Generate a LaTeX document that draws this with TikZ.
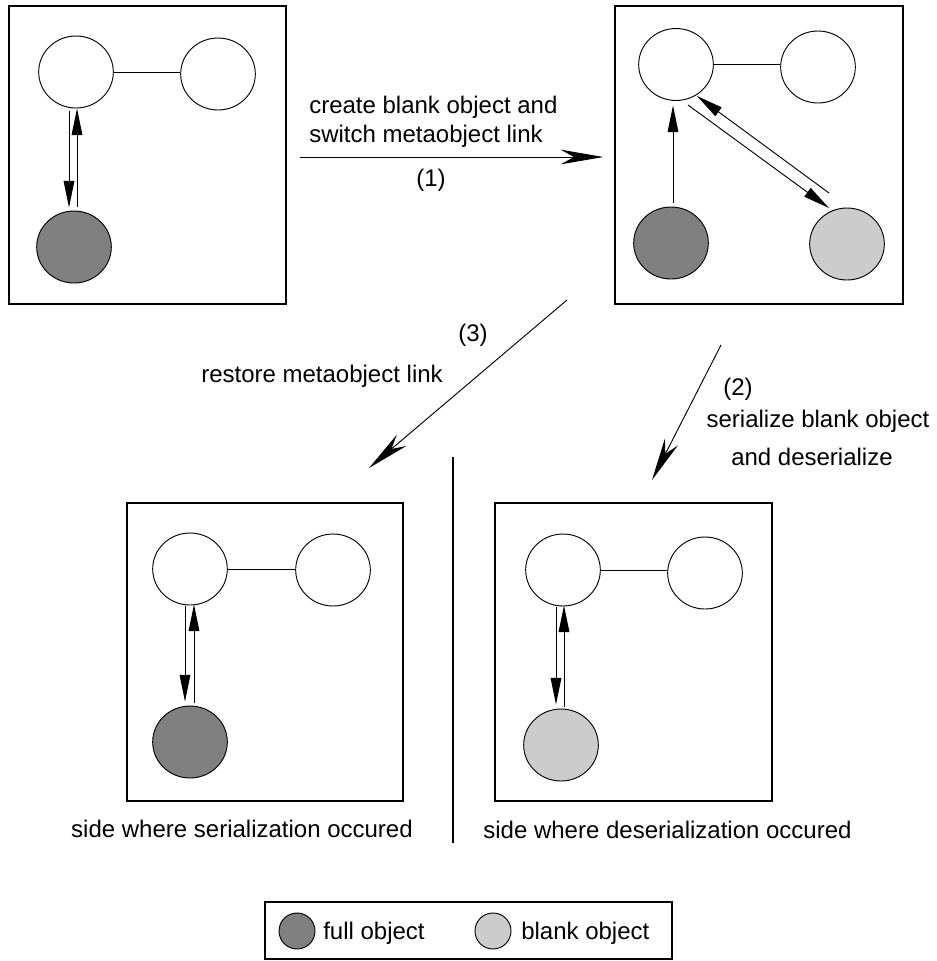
\documentclass[tikz,border=0pt]{standalone}
\usepackage{fontspec}
\setmainfont{Liberation Sans}
\usetikzlibrary{shapes.geometric,arrows.meta,calc}
\definecolor{fullgray}{RGB}{128,128,128}
\definecolor{blankgray}{RGB}{204,204,204}
\begin{document}
\begin{tikzpicture}[x=0.75pt,y=-0.75pt,
  every node/.style={font=\fontsize{18}{22}\selectfont},
  panel/.style={draw,line width=1pt,rectangle,inner sep=0pt},
  obj/.style={draw,ellipse,line width=0.7pt,minimum width=56pt,minimum height=54pt,inner sep=0pt},
  fullobj/.style={obj,fill=fullgray},
  blankobj/.style={obj,fill=blankgray},
  legobj/.style={draw,circle,line width=0.7pt,minimum size=27pt,inner sep=0pt},
  link/.style={line width=0.7pt},
  ptr/.style={line width=0.7pt,-{Triangle[length=20pt,width=8pt]}},
  bigarrow/.style={line width=0.7pt,-{Stealth[length=32pt,width=11pt,inset=10pt]}},
  lbl/.style={anchor=base,inner sep=0pt}]
\useasboundingbox (0,0) rectangle (937,961);
% panels
\node[panel,minimum width=207.75pt,minimum height=223.5pt] (tl) at (147.5,155) {};
\node[panel,minimum width=216pt,minimum height=223.5pt] (tr) at (759,155) {};
\node[panel,minimum width=207pt,minimum height=223.5pt] (bl) at (265,652) {};
\node[panel,minimum width=207.75pt,minimum height=223.5pt] (br) at (633.5,652) {};
\node[panel,minimum width=305.25pt,minimum height=42.75pt] (leg) at (468.5,930.5) {};
% objects
\node[obj] (tlA) at (76,72) {};
\node[obj] (tlB) at (218,74) {};
\node[fullobj] (tlC) at (74,247) {};
\node[obj] (trA) at (676,64.5) {};
\node[obj] (trB) at (818,67) {};
\node[fullobj] (trC) at (671,243) {};
\node[blankobj] (trD) at (847,244) {};
\node[obj] (blA) at (190,569) {};
\node[obj] (blB) at (333,570) {};
\node[fullobj] (blC) at (190,742) {};
\node[obj] (brA) at (563,570) {};
\node[obj] (brB) at (705,573) {};
\node[blankobj] (brC) at (561,745) {};
\node[legobj,fill=fullgray] (lgF) at (297,931) {};
\node[legobj,fill=blankgray] (lgB) at (493,931) {};
% links
\draw[link] (tlA.east) -- (tlA.east -| tlB.west);
\draw[link] (trA.east) -- (trA.east -| trB.west);
\draw[link] (blA.east) -- (blA.east -| blB.west);
\draw[link] (brA.east) -- (brA.east -| brB.west);
% pointers
\draw[ptr] ($(tlA.south)+(-7,3)$) -- ($(tlC.north)+(-5,-3)$);
\draw[ptr] ($(tlC.north)+(3,-4)$) -- ($(tlA.south)+(1,0)$);
\draw[ptr] ($(trC.north)+(2,-4)$) -- ($(trA.south)+(-3,4.5)$);
\draw[ptr] ($(trA.center)+(12,40.5)$) -- ($(trD.center)+(-18,-36)$);
\draw[ptr] ($(trD.center)+(-18,-51)$) -- ($(trA.center)+(21,31.5)$);
\draw[ptr] ($(blA.south)+(-5,1)$) -- ($(blC.north)+(-5,-4)$);
\draw[ptr] ($(blC.north)+(4,-3)$) -- ($(blA.south)+(4,-1)$);
\draw[ptr] ($(brA.south)+(-7,1)$) -- ($(brC.north)+(-5,-4)$);
\draw[ptr] ($(brC.north)+(3,-2)$) -- ($(brA.south)+(1,-1)$);
% big arrows
\draw[bigarrow] ($(tl.east)+(13,2)$) -- ($(tr.west)+(-11,2)$);
\coordinate (a3s) at (567,300);
\coordinate (a3e) at (369,468);
\draw[bigarrow] (a3s) -- (a3e);
\coordinate (a2s) at (721,345);
\coordinate (a2e) at (652,480);
\draw[bigarrow] (a2s) -- (a2e);
% separator
\coordinate (sepT) at (453,457);
\coordinate (sepB) at (453,843);
\draw[line width=0.8pt] (sepT) -- (sepB);
% labels
\node[lbl,anchor=base west] (t1a) at (309,113) {create blank object and};
\node[lbl,anchor=base west] (t1b) at (309,142) {switch metaobject link};
\node[lbl] (t1n) at (431,186) {(1)};
\node[lbl] (t3n) at (473,341) {(3)};
\node[lbl] (t3) at (322,382) {restore metaobject link};
\node[lbl] (t2n) at (738,395) {(2)};
\node[lbl] (t2a) at (818,427) {serialize blank object};
\node[lbl] (t2b) at (812,465) {and deserialize};
\node[lbl] (sl) at (242,837) {side where serialization occured};
\node[lbl] (sr) at (667.5,838) {side where deserialization occured};
\node[lbl,anchor=base west] (lf) at (323,939) {full object};
\node[lbl,anchor=base west] (lb) at (521,939) {blank object};
\end{tikzpicture}
\end{document}
